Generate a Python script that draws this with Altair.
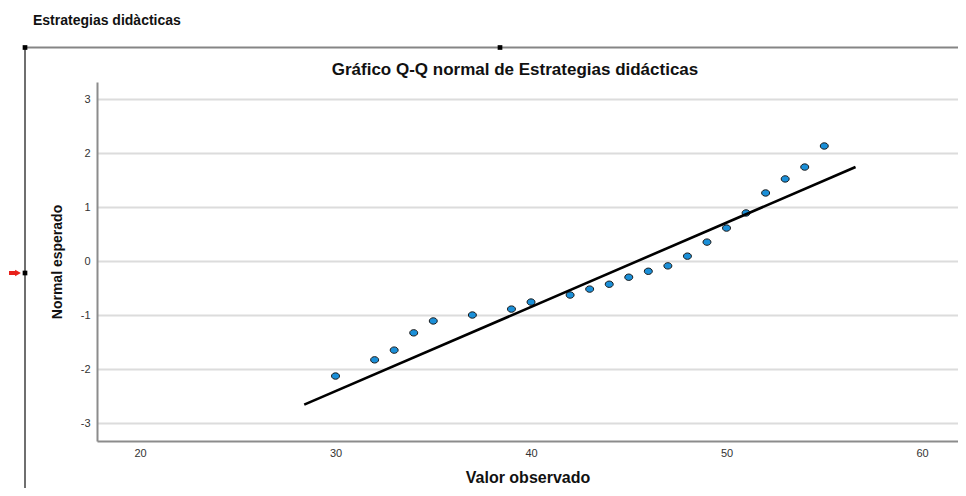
import altair as alt
import pandas as pd

# ---- data ----
observed = [30, 32, 33, 34, 35, 37, 39, 40, 42, 43, 44, 45, 46, 47, 48, 49, 50, 51, 52, 53, 54, 55]
expected = [-2.13, -1.83, -1.65, -1.33, -1.11, -1.00, -0.89, -0.76, -0.63, -0.52, -0.43,
            -0.30, -0.19, -0.09, 0.09, 0.35, 0.61, 0.89, 1.26, 1.52, 1.74, 2.13]
line_x = [28.4, 56.6]
line_y = [-2.66, 1.74]
x_ticks = [20, 30, 40, 50, 60]
y_ticks = [-3, -2, -1, 0, 1, 2, 3]

header_text = "Estrategias didàcticas"
chart_title = "Gráfico Q-Q normal de Estrategias didácticas"
x_title = "Valor observado"
y_title = "Normal esperado"

W, H = 861, 359
FONT = "Liberation Sans, Arial, sans-serif"
ELLIPSE = "M -1 0 A 1 0.8 0 1 0 1 0 A 1 0.8 0 1 0 -1 0 Z"

pts = pd.DataFrame({"obs": observed, "exp": expected})
ln = pd.DataFrame({"obs": line_x, "exp": line_y})
one = pd.DataFrame({"t": [0]})

xs = alt.Scale(domain=[17.8, 61.84], nice=False, zero=False)
ys = alt.Scale(domain=[-3.333, 3.315], nice=False, zero=False)

points = alt.Chart(pts).mark_point(
    shape=ELLIPSE, filled=True, size=64, fill="#1a8fd8", stroke="#1a1a1a",
    strokeWidth=1, opacity=1
).encode(
    x=alt.X("obs:Q", scale=xs,
            axis=alt.Axis(values=x_ticks, grid=False, title=x_title, titleFontSize=16,
                          titleFontWeight="bold", titlePadding=11, labelPadding=6,
                          titleColor="#111", labelExpr="'' + datum.value")),
    y=alt.Y("exp:Q", scale=ys,
            axis=alt.Axis(values=y_ticks, grid=True, title=y_title, titleFontSize=14,
                          titleFontWeight="bold", titlePadding=16, labelPadding=7,
                          titleColor="#111", labelExpr="'' + datum.value")),
)

fit = alt.Chart(ln).mark_line(color="black", strokeWidth=2.6).encode(
    x=alt.X("obs:Q", scale=xs), y=alt.Y("exp:Q", scale=ys)
)

# ---- surrounding viewer decorations ----
frame_left = alt.Chart(one).mark_rule(color="#6f6f6f", strokeWidth=2).encode(
    x=alt.value(-72), y=alt.value(-35), y2=alt.value(420))
frame_top = alt.Chart(one).mark_rule(color="#858585", strokeWidth=2).encode(
    x=alt.value(-72), x2=alt.value(870), y=alt.value(-34.5))
sq1 = alt.Chart(one).mark_square(color="black", size=22, opacity=1).encode(
    x=alt.value(-72), y=alt.value(-34.5))
sq2 = alt.Chart(one).mark_square(color="black", size=22, opacity=1).encode(
    x=alt.value(403), y=alt.value(-34.5))
sq3 = alt.Chart(one).mark_square(color="black", size=22, opacity=1).encode(
    x=alt.value(-72), y=alt.value(191))
arrow_shaft = alt.Chart(one).mark_rule(color="#e8201a", strokeWidth=4).encode(
    x=alt.value(-88), x2=alt.value(-81), y=alt.value(191))
arrow_head = alt.Chart(one).mark_point(shape="triangle-right", filled=True, size=45,
                                       color="#e8201a", opacity=1).encode(
    x=alt.value(-79), y=alt.value(191))

header = alt.Chart(pd.DataFrame({"t": [header_text]})).mark_text(
    align="left", baseline="middle", fontSize=14, fontWeight="bold", font=FONT, color="#111"
).encode(x=alt.value(-64), y=alt.value(-61), text="t:N")

title = alt.Chart(pd.DataFrame({"t": [chart_title]})).mark_text(
    align="center", baseline="middle", fontSize=17, fontWeight="bold", font=FONT, color="#111"
).encode(x=alt.value(418), y=alt.value(-12), text="t:N")

chart = alt.layer(
    points, fit, frame_left, frame_top, sq1, sq2, sq3, arrow_shaft, arrow_head, header, title
).properties(
    width=W, height=H,
    padding={"left": 89, "top": 74, "right": 0, "bottom": 47},
    autosize=alt.AutoSizeParams(type="none"),
    background="white",
).configure_view(stroke=None).configure_axis(
    domainColor="#8c8c8c", domainWidth=2, ticks=False, labelColor="#333",
    labelFont=FONT, labelFontSize=11, titleFont=FONT,
    gridColor="#dcdcdc", gridWidth=2
)

chart.save("out.html", embed_options={"renderer": "svg", "actions": False})
